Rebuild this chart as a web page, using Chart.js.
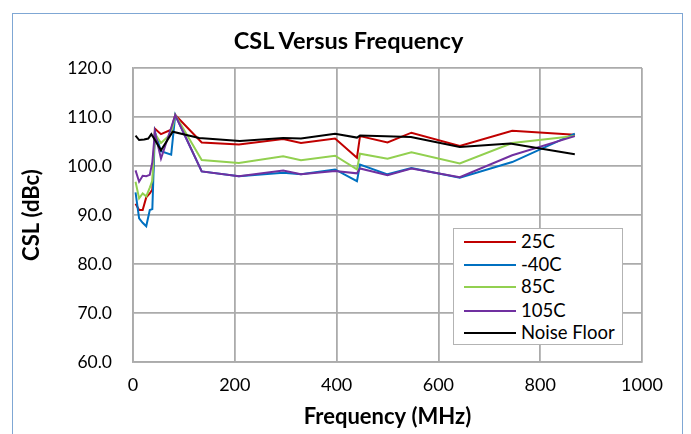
<!DOCTYPE html>
<html>
<head>
<meta charset="utf-8">
<script src="https://cdn.jsdelivr.net/npm/chart.js@4.4.1/dist/chart.umd.min.js"></script>
<style>
  html, body { margin: 0; padding: 0; background: #ffffff; }
  #wrap { position: relative; width: 691px; height: 434px; overflow: hidden; font-family: Lato, "Open Sans", sans-serif; }
  #frame { position: absolute; left: 12px; top: 13px; width: 671px; height: 440px; border: 1px solid #7fa7d4; box-sizing: border-box; }
  #title { position: absolute; left: 0; width: 697px; top: 26px; text-align: center; font-weight: bold; font-size: 23.5px; line-height: 28px; color: #000; }
  #cv { position: absolute; left: 0; top: 0; }
  #legend { position: absolute; left: 453px; top: 228px; width: 170px; height: 117px; border: 1.5px solid #b3b3b3; background: #fff; box-sizing: border-box; }
  .row { position: absolute; left: 0; height: 22px; width: 168px; }
  .swatch { position: absolute; left: 10px; width: 52px; height: 2px; top: 11px; }
  .lab { position: absolute; left: 67px; top: 0; font-size: 18.5px; line-height: 23px; color: #000; white-space: nowrap; }
</style>
</head>
<body>
<div id="wrap">
  <div id="frame"></div>
  <canvas id="cv" width="691" height="434"></canvas>
  <div id="title">CSL Versus Frequency</div>
  <div id="legend"></div>
</div>
<script>
// ---- data ----
const seriesNames = ["25C", "-40C", "85C", "105C", "Noise Floor"];
const seriesColors = ["#c00000", "#0070c0", "#92d050", "#7030a0", "#000000"];

const freqMHz = [5, 12, 19, 26, 33, 38, 43, 55, 75, 83, 135, 208, 295, 330, 397, 440, 446, 500, 547, 642, 745, 868];
const csl25C   = [92.3, 91.0, 91.0, 93.6, 94.4, 95.2, 107.6, 106.5, 107.4, 110.4, 104.8, 104.4, 105.5, 104.7, 105.6, 101.7, 106.1, 104.8, 106.8, 104.1, 107.2, 106.4];
const cslM40C  = [94.6, 89.3, 88.4, 87.7, 91.0, 91.2, 107.0, 103.0, 102.3, 110.4, 98.9, 97.9, 98.6, 98.3, 99.3, 96.9, 100.3, 98.3, 99.6, 97.6, 100.8, 106.6];
const csl85C   = [96.8, 93.4, 94.4, 93.8, 95.6, 97.0, 106.6, 104.7, 106.6, 110.4, 101.2, 100.6, 102.0, 101.2, 102.1, 99.3, 102.5, 101.5, 102.8, 100.5, 104.7, 106.1];
const csl105C  = [99.1, 96.8, 98.0, 97.9, 98.2, 100.8, 106.9, 101.5, 107.8, 110.4, 98.9, 97.9, 99.1, 98.3, 99.0, 98.5, 99.5, 98.1, 99.5, 97.7, 102.2, 106.1];

const noiseFreqMHz = [5, 12, 22, 30, 36, 42, 55, 78, 130, 210, 295, 330, 397, 440, 446, 546, 642, 741, 868];
const noiseFloor   = [106.2, 105.3, 105.4, 105.6, 106.5, 105.5, 103.2, 107.0, 105.7, 105.1, 105.7, 105.6, 106.6, 105.8, 106.2, 105.9, 103.9, 104.6, 102.4];

const xTicks = [0, 200, 400, 600, 800, 1000];
const yTicks = [60, 70, 80, 90, 100, 110, 120];

function pts(xs, ys) { return xs.map((x, i) => ({ x: x, y: ys[i] })); }

const seriesData = [
  pts(freqMHz, csl25C),
  pts(freqMHz, cslM40C),
  pts(freqMHz, csl85C),
  pts(freqMHz, csl105C),
  pts(noiseFreqMHz, noiseFloor)
];

const datasets = seriesData.map((d, i) => ({
  label: seriesNames[i],
  data: d,
  showLine: true,
  borderColor: seriesColors[i],
  backgroundColor: seriesColors[i],
  borderWidth: 2,
  pointRadius: 0,
  tension: 0,
  order: seriesNames.length - i
}));

// HTML legend
const leg = document.getElementById('legend');
const rowTops = [1, 24, 46, 70, 92];
seriesNames.forEach((n, i) => {
  const r = document.createElement('div');
  r.className = 'row';
  r.style.top = rowTops[i] + 'px';
  r.innerHTML = '<div class="swatch" style="background:' + seriesColors[i] + '"></div><div class="lab"></div>';
  r.querySelector('.lab').textContent = n;
  leg.appendChild(r);
});

const gridColor = '#ababab';
new Chart(document.getElementById('cv'), {
  type: 'scatter',
  data: { datasets: datasets },
  options: {
    responsive: false,
    animation: false,
    devicePixelRatio: 1,
    layout: { padding: { top: 68, right: 49, bottom: 0, left: 0 } },
    plugins: { legend: { display: false }, title: { display: false }, tooltip: { enabled: false } },
    scales: {
      x: {
        type: 'linear', min: 0, max: 1000,
        afterBuildTicks: s => { s.ticks = xTicks.map(v => ({ value: v })); },
        afterFit: s => { s.height = 72; },
        grid: { color: gridColor, lineWidth: 1.8, drawTicks: false },
        border: { display: true, color: gridColor, width: 1.8 },
        ticks: { padding: 12, color: '#000', font: { family: 'Lato', size: 18 }, maxRotation: 0, callback: v => String(v) },
        title: { display: true, text: 'Frequency (MHz)', color: '#000', font: { family: 'Lato', size: 22, weight: 'bold' }, padding: { top: 0, bottom: 4 } }
      },
      y: {
        type: 'linear', min: 60, max: 120,
        afterBuildTicks: s => { s.ticks = yTicks.map(v => ({ value: v })); },
        afterFit: s => { s.width = 133; },
        grid: { color: gridColor, lineWidth: 1.8, drawTicks: false },
        border: { display: true, color: gridColor, width: 1.8 },
        ticks: { padding: 21, color: '#000', font: { family: 'Lato', size: 17.5 }, callback: v => Number(v).toFixed(1) },
        title: { display: true, text: 'CSL (dBc)', color: '#000', font: { family: 'Lato', size: 22, weight: 'bold' }, padding: { top: 19, bottom: 0 } }
      }
    }
  }
});
</script>
</body>
</html>
